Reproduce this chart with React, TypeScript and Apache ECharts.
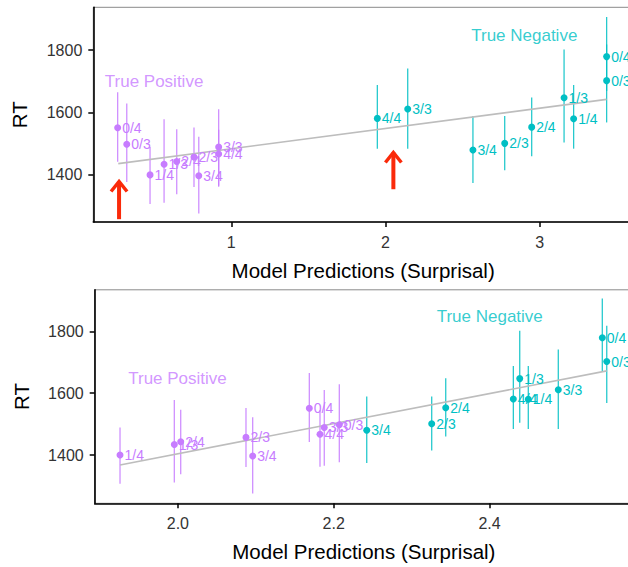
import React, { useEffect, useRef } from "react";
import * as echarts from "echarts";

// ---- Data ----
const posLabels = ["0/4", "0/3", "1/4", "1/3", "2/4", "2/3", "3/4", "3/3", "4/4"];
const posRT = [1551, 1498, 1400, 1434, 1443, 1457, 1397, 1489, 1467];
const posLo = [1442, 1377, 1307, 1311, 1338, 1361, 1276, 1365, 1362];
const posHi = [1665, 1629, 1489, 1578, 1546, 1552, 1522, 1610, 1545];
const posTopX = [0.263, 0.322, 0.473, 0.564, 0.646, 0.758, 0.789, 0.918, 0.918];
const posBotX = [2.1687, 2.2072, 1.9257, 1.9954, 2.0036, 2.0874, 2.096, 2.1879, 2.1824];

const negLabels = ["4/4", "3/3", "3/4", "2/3", "2/4", "1/3", "1/4", "0/4", "0/3"];
const negRT = [1581, 1611, 1480, 1501, 1553, 1647, 1580, 1779, 1702];
const negLo = [1484, 1484, 1374, 1415, 1460, 1504, 1484, 1669, 1568];
const negHi = [1688, 1741, 1589, 1589, 1648, 1802, 1688, 1906, 1818];
const negTopX = [1.947, 2.144, 2.567, 2.773, 2.948, 3.158, 3.22, 3.434, 3.434];
const negBotX = [2.4306, 2.4883, 2.2424, 2.3258, 2.3438, 2.4388, 2.4498, 2.5448, 2.5505];

const topFitX = [0.267, 3.434];
const topFitY = [1436, 1642];
const botFitX = [1.9257, 2.5505];
const botFitY = [1368, 1672];

const topTicksX = [1, 2, 3];
const botTicksX = [2.0, 2.2, 2.4];
const ticksY = [1400, 1600, 1800];

const arrowX = [0.272, 2.051];
const arrowFrom = [1258, 1354];
const arrowTo = [1382, 1475];

const annoText = ["True Positive", "True Negative"];
const topAnnoX = [0.499, 2.9];
const topAnnoY = [1698, 1848];
const botAnnoX = [1.9995, 2.4003];
const botAnnoY = [1647, 1848];

const PURPLE = "#C77CFF";
const TEAL = "#00BFC4";
const FONT = "'Liberation Sans', Arial, Helvetica, sans-serif";

export default function App() {
  const ref = useRef<HTMLDivElement>(null);

  useEffect(() => {
    if (!ref.current) return;
    const chart = echarts.init(ref.current, undefined, { renderer: "svg" });

    const xAxisBase = (gridIndex: number, min: number, max: number, ticks: number[], fmt: (v: number) => string) => ({
      type: "value",
      gridIndex,
      min,
      max,
      name: "Model Predictions (Surprisal)",
      nameLocation: "middle",
      nameGap: 38,
      nameTextStyle: { fontSize: 20.5, color: "#000", fontFamily: FONT, verticalAlign: "top" },
      axisLine: { show: true, onZero: false, lineStyle: { color: "#000", width: 1.6 } },
      axisTick: { show: true, length: 5, customValues: ticks, lineStyle: { color: "#000", width: 1.5 } },
      axisLabel: {
        show: true,
        customValues: ticks,
        margin: 12,
        fontSize: 16,
        color: "#333",
        fontFamily: FONT,
        formatter: (v: number) => fmt(v),
      },
      splitLine: { show: false },
    });

    const yAxisBase = (gridIndex: number, min: number, max: number) => ({
      type: "value",
      gridIndex,
      min,
      max,
      name: "RT",
      nameLocation: "middle",
      nameGap: 63,
      nameRotate: 90,
      nameTextStyle: { fontSize: 20.5, color: "#000", fontFamily: FONT },
      axisLine: { show: true, onZero: false, lineStyle: { color: "#000", width: 1.6 } },
      axisTick: { show: true, length: 5, customValues: ticksY, lineStyle: { color: "#000", width: 1.5 } },
      axisLabel: {
        show: true,
        customValues: ticksY,
        margin: 11,
        fontSize: 16,
        color: "#333",
        fontFamily: FONT,
        formatter: (v: number) => String(Math.round(v)),
      },
      splitLine: { show: false },
    });

    const errSeries = (idx: number, xs: number[], lo: number[], hi: number[], color: string) => ({
      type: "custom",
      xAxisIndex: idx,
      yAxisIndex: idx,
      z: 2,
      data: xs.map((x, i) => [x, lo[i], hi[i]]),
      encode: { x: 0, y: [1, 2] },
      renderItem: (params: any, api: any) => {
        const p1 = api.coord([api.value(0), api.value(1)]);
        const p2 = api.coord([api.value(0), api.value(2)]);
        return {
          type: "line",
          shape: { x1: p1[0], y1: p1[1], x2: p2[0], y2: p2[1] },
          style: { stroke: color, lineWidth: 1.3, opacity: 0.85 },
        };
      },
      silent: true,
    });

    const ptSeries = (idx: number, xs: number[], ys: number[], labels: string[], color: string) => ({
      type: "scatter",
      xAxisIndex: idx,
      yAxisIndex: idx,
      z: 4,
      symbol: "circle",
      symbolSize: 7,
      itemStyle: { color, opacity: 1 },
      data: xs.map((x, i) => [x, ys[i], labels[i]]),
      label: {
        show: true,
        position: "right",
        distance: 1,
        formatter: (p: any) => p.value[2],
        color,
        fontSize: 14,
        fontFamily: FONT,
      },
      labelLayout: { hideOverlap: false },
    });

    const fitSeries = (idx: number, xs: number[], ys: number[]) => ({
      type: "line",
      xAxisIndex: idx,
      yAxisIndex: idx,
      z: 3,
      data: xs.map((x, i) => [x, ys[i]]),
      symbol: "none",
      lineStyle: { color: "#BDBDBD", width: 1.6 },
      silent: true,
    });

    const annoSeries = (idx: number, xs: number[], ys: number[]) => ({
      type: "scatter",
      xAxisIndex: idx,
      yAxisIndex: idx,
      z: 5,
      symbolSize: 0,
      data: xs.map((x, i) => ({
        value: [x, ys[i], annoText[i]],
        label: { color: i === 0 ? PURPLE : TEAL },
      })),
      label: {
        show: true,
        position: "inside",
        formatter: (p: any) => p.value[2],
        fontSize: 17,
        fontFamily: FONT,
      },
      silent: true,
    });

    const arrowSeries = {
      type: "custom",
      xAxisIndex: 0,
      yAxisIndex: 0,
      z: 6,
      data: arrowX.map((x, i) => [x, arrowFrom[i], arrowTo[i]]),
      encode: { x: 0, y: [1, 2] },
      renderItem: (params: any, api: any) => {
        const b = api.coord([api.value(0), api.value(1)]);
        const t = api.coord([api.value(0), api.value(2)]);
        const color = "#FA2A0A";
        return {
          type: "group",
          children: [
            {
              type: "line",
              shape: { x1: b[0], y1: b[1], x2: t[0], y2: t[1] + 1 },
              style: { stroke: color, lineWidth: 4 },
            },
            {
              type: "polyline",
              shape: {
                points: [
                  [t[0] - 8, t[1] + 11],
                  [t[0], t[1] + 1],
                  [t[0] + 8, t[1] + 11],
                ],
              },
              style: { stroke: color, lineWidth: 3.5, fill: "none", lineJoin: "miter" },
            },
          ],
        };
      },
      silent: true,
    };

    const option: any = {
      animation: false,
      backgroundColor: "#fff",
      textStyle: { fontFamily: FONT },
      grid: [
        {
          left: 93.3,
          top: 7.3,
          width: 539.7,
          height: 214.7,
          show: true,
          borderColor: "#8a8a8a",
          borderWidth: 1,
          backgroundColor: "transparent",
          outerBoundsMode: "none",
        },
        {
          left: 94.7,
          top: 289.8,
          width: 538.3,
          height: 213.5,
          show: true,
          borderColor: "#8a8a8a",
          borderWidth: 1,
          backgroundColor: "transparent",
          outerBoundsMode: "none",
        },
      ],
      xAxis: [
        xAxisBase(0, 0.105, 3.605, topTicksX, (v) => String(Math.round(v))),
        xAxisBase(1, 1.8932, 2.5842, botTicksX, (v) => v.toFixed(1)),
      ],
      yAxis: [yAxisBase(0, 1249, 1937), yAxisBase(1, 1244, 1934)],
      series: [
        errSeries(0, posTopX, posLo, posHi, PURPLE),
        errSeries(0, negTopX, negLo, negHi, TEAL),
        fitSeries(0, topFitX, topFitY),
        ptSeries(0, posTopX, posRT, posLabels, PURPLE),
        ptSeries(0, negTopX, negRT, negLabels, TEAL),
        annoSeries(0, topAnnoX, topAnnoY),
        arrowSeries,
        errSeries(1, posBotX, posLo, posHi, PURPLE),
        errSeries(1, negBotX, negLo, negHi, TEAL),
        fitSeries(1, botFitX, botFitY),
        ptSeries(1, posBotX, posRT, posLabels, PURPLE),
        ptSeries(1, negBotX, negRT, negLabels, TEAL),
        annoSeries(1, botAnnoX, botAnnoY),
      ],
    };

    chart.setOption(option);
    return () => chart.dispose();
  }, []);

  return (
    <div
      ref={ref}
      style={{ position: "fixed", left: 0, top: 0, width: 628, height: 567, background: "#fff" }}
    />
  );
}
